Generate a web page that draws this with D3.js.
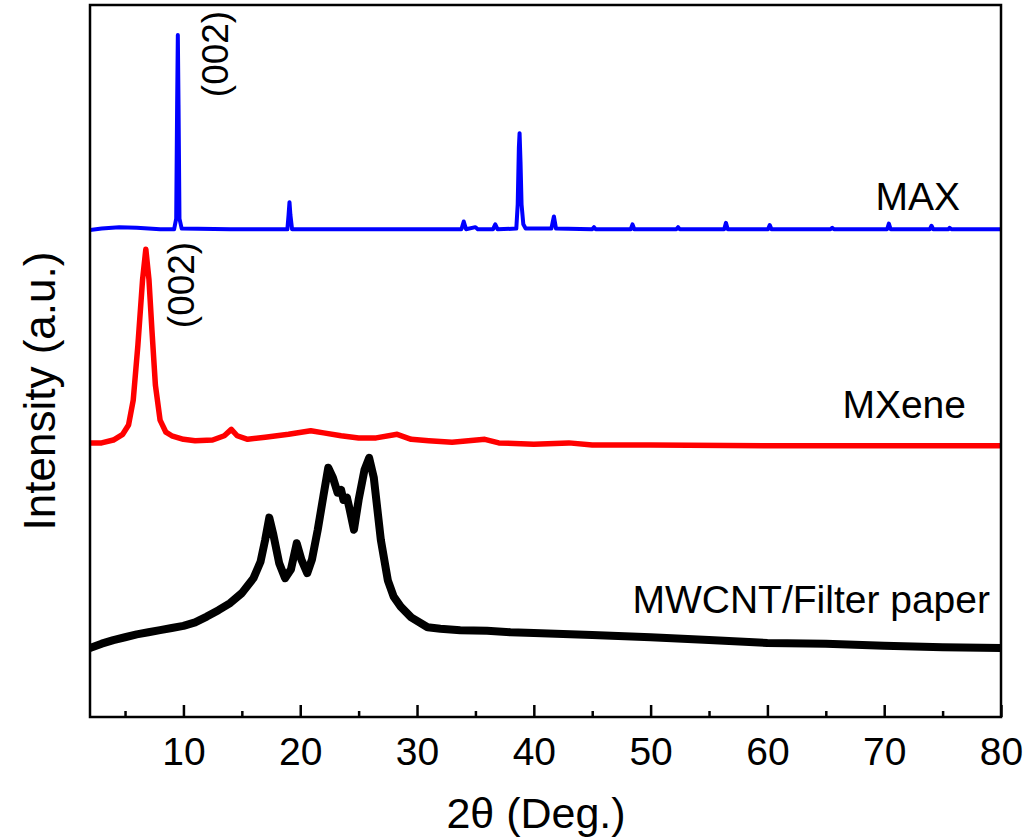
<!DOCTYPE html>
<html>
<head>
<meta charset="utf-8">
<script src="https://cdn.jsdelivr.net/npm/d3@7"></script>
<style>
  html, body { margin: 0; padding: 0; background: #fff; }
  svg { display: block; }
  text { font-family: "Liberation Sans", Arial, sans-serif; fill: #000; }
</style>
</head>
<body>
<svg id="chart" width="1027" height="838"></svg>
<script>
// ---- data (2θ in degrees, intensity in a.u. incl. vertical offset) ----
const xMajorTicks = [10, 20, 30, 40, 50, 60, 70, 80];
const xMinorTicks = [5, 15, 25, 35, 45, 55, 65, 75];
const seriesNames = ["MAX", "MXene", "MWCNT/Filter paper"];
const peakLabels = ["(002)", "(002)"];

const maxData = [
  [2.0,68.4],[3.0,68.6],[4.5,68.8],[6.0,68.7],[8.0,68.5],[9.2,68.5],
  [9.38,70.0],[9.46,86.0],[9.52,95.8],[9.58,86.0],[9.66,70.0],[9.85,68.6],
  [14.0,68.5],[18.9,68.5],[19.0,70.5],[19.08,72.3],[19.16,70.5],[19.3,68.5],
  [25.0,68.5],[33.8,68.5],[34.0,69.6],[34.2,68.5],[35.0,68.8],[35.2,68.5],
  [36.5,68.5],[36.7,69.2],[36.9,68.5],[38.5,68.6],[38.62,72.0],[38.72,80.0],
  [38.78,82.0],[38.86,78.0],[38.95,72.0],[39.1,69.2],[39.3,68.6],[41.5,68.6],
  [41.72,70.3],[41.9,68.6],[45.0,68.5],[45.15,68.8],[45.3,68.5],[48.3,68.5],
  [48.45,69.2],[48.6,68.5],[52.2,68.5],[52.35,68.8],[52.5,68.5],[56.3,68.5],
  [56.45,69.4],[56.6,68.5],[60.05,68.5],[60.2,69.1],[60.35,68.5],[65.4,68.5],
  [65.55,68.7],[65.7,68.5],[70.25,68.5],[70.4,69.3],[70.55,68.5],[73.9,68.5],
  [74.05,69.0],[74.2,68.5],[75.5,68.5],[75.6,68.7],[75.75,68.5],[80.0,68.5]
];

const mxeneData = [
  [2.0,38.5],[3.0,38.5],[4.0,38.9],[4.8,39.7],[5.3,41.0],[5.7,44.5],
  [6.1,52.2],[6.5,61.4],[6.78,65.7],[7.05,61.4],[7.3,54.4],[7.6,46.6],
  [8.0,41.7],[8.5,40.0],[9.0,39.5],[10.0,39.0],[11.0,38.8],[12.5,38.9],
  [13.5,39.5],[14.1,40.4],[14.6,39.5],[15.5,39.0],[17.0,39.3],[19.0,39.7],
  [20.9,40.2],[22.0,39.9],[23.5,39.5],[25.0,39.2],[26.5,39.2],[28.3,39.7],
  [29.5,39.0],[31.0,38.8],[33.0,38.6],[35.8,39.0],[37.0,38.5],[40.0,38.3],
  [43.0,38.5],[45.0,38.2],[50.0,38.2],[60.0,38.1],[70.0,38.1],[80.0,38.1]
];

const mwcntData = [
  [2.0,9.7],[3.0,10.3],[4.0,10.8],[5.0,11.2],[6.0,11.6],[7.0,11.9],
  [8.0,12.2],[9.0,12.5],[10.0,12.8],[11.0,13.3],[12.0,14.1],[13.0,15.0],
  [14.0,16.0],[15.0,17.4],[16.0,19.5],[16.6,21.8],[17.0,24.9],[17.35,28.0],
  [17.7,25.6],[18.2,21.6],[18.7,19.5],[19.2,20.7],[19.7,24.4],[20.1,22.1],
  [20.6,20.2],[21.0,22.1],[21.5,26.3],[22.0,31.2],[22.4,35.0],[22.8,33.6],
  [23.2,31.5],[23.5,31.9],[23.7,30.5],[24.0,30.8],[24.2,29.4],[24.6,26.3],
  [25.0,30.5],[25.5,34.7],[25.9,36.4],[26.3,33.6],[26.9,24.9],[27.5,19.2],
  [28.0,16.9],[28.6,15.5],[29.5,14.0],[30.9,12.6],[32.0,12.4],[33.7,12.2],
  [36.0,12.1],[38.0,11.9],[40.0,11.8],[45.0,11.5],[50.0,11.2],[55.0,10.8],
  [60.0,10.4],[65.0,10.3],[70.0,10.0],[75.0,9.8],[80.0,9.7]
];

const seriesData = [maxData, mxeneData, mwcntData];
const seriesColors = ["#0000ff", "#ff0000", "#000000"];
const seriesWidths = [4, 5.5, 8];

// ---- layout ----
const W = 1027, H = 838;
const plot = { left: 90, right: 1001, top: 5, bottom: 717 };

const svg = d3.select("#chart");
svg.append("rect").attr("width", W).attr("height", H).attr("fill", "#fff");

const x = d3.scaleLinear().domain([2, 80]).range([plot.left, plot.right]);
const y = d3.scaleLinear().domain([0, 100]).range([plot.bottom, plot.top]);

svg.append("clipPath").attr("id", "clip")
  .append("rect")
  .attr("x", plot.left).attr("y", plot.top)
  .attr("width", plot.right - plot.left).attr("height", plot.bottom - plot.top);

const line = d3.line().x(d => x(d[0])).y(d => y(d[1])).curve(d3.curveLinear);

const g = svg.append("g").attr("clip-path", "url(#clip)");
seriesData.forEach((data, i) => {
  g.append("path")
    .datum(data)
    .attr("fill", "none")
    .attr("stroke", seriesColors[i])
    .attr("stroke-width", seriesWidths[i])
    .attr("stroke-linejoin", "round")
    .attr("stroke-linecap", "round")
    .attr("d", line);
});

// frame
svg.append("rect")
  .attr("x", plot.left).attr("y", plot.top)
  .attr("width", plot.right - plot.left).attr("height", plot.bottom - plot.top)
  .attr("fill", "none").attr("stroke", "#000").attr("stroke-width", 2.5);

// x axis: major ticks inward with labels
const axMajor = svg.append("g")
  .attr("transform", `translate(0,${plot.bottom})`)
  .call(d3.axisBottom(x).tickValues(xMajorTicks).tickSizeInner(-12).tickSizeOuter(0).tickFormat(d3.format("d")));
axMajor.select(".domain").remove();
axMajor.selectAll(".tick line").attr("stroke", "#000").attr("stroke-width", 2.5);
axMajor.selectAll(".tick text")
  .attr("y", 48).attr("dy", 0)
  .attr("font-size", 39)
  .attr("font-family", "'Liberation Sans', Arial, sans-serif")
  .attr("fill", "#000");

// minor ticks
const axMinor = svg.append("g")
  .attr("transform", `translate(0,${plot.bottom})`)
  .call(d3.axisBottom(x).tickValues(xMinorTicks).tickSizeInner(-6).tickSizeOuter(0).tickFormat(""));
axMinor.select(".domain").remove();
axMinor.selectAll(".tick line").attr("stroke", "#000").attr("stroke-width", 2.5);

// axis titles
svg.append("text")
  .attr("x", 536).attr("y", 828)
  .attr("text-anchor", "middle")
  .attr("font-size", 43)
  .text("2θ (Deg.)");

svg.append("text")
  .attr("transform", "translate(55,391) rotate(-90)")
  .attr("text-anchor", "middle")
  .attr("font-size", 44)
  .text("Intensity (a.u.)");

// series labels
const labelPos = [[960, 210], [966, 418], [990, 613]];
seriesNames.forEach((name, i) => {
  svg.append("text")
    .attr("x", labelPos[i][0]).attr("y", labelPos[i][1])
    .attr("text-anchor", "end")
    .attr("font-size", 39)
    .text(name);
});

// peak labels (rotated)
const peakPos = [[228, 54], [194, 285]];
peakLabels.forEach((t, i) => {
  svg.append("text")
    .attr("transform", `translate(${peakPos[i][0]},${peakPos[i][1]}) rotate(-90)`)
    .attr("text-anchor", "middle")
    .attr("font-size", 37)
    .text(t);
});
</script>
</body>
</html>
